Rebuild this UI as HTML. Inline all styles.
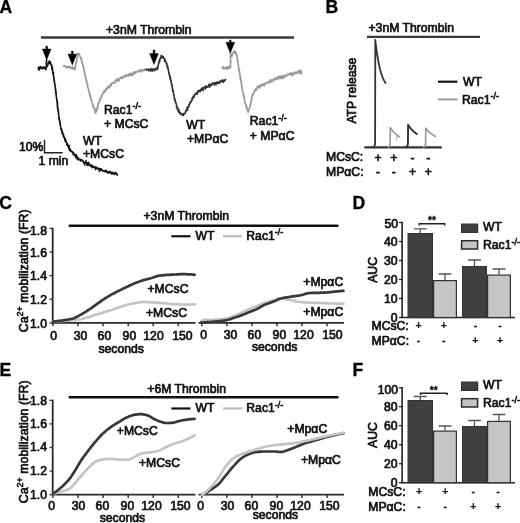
<!DOCTYPE html>
<html><head><meta charset="utf-8"><title>Figure</title>
<style>
html,body{margin:0;padding:0;background:#fff;}
svg{display:block;}
text{font-family:"Liberation Sans",Arial,sans-serif;fill:#111;stroke:#111;stroke-width:0.7px;stroke-linejoin:round;}
.b{font-weight:bold;font-size:17.6px;fill:#000;stroke:#000;stroke-width:0.3px;}
.t{font-size:12.2px;}
.s{font-size:9px;stroke-width:0.6px;}
.g{font-size:10.5px;font-weight:bold;stroke-width:0.15px;}
</style></head><body>
<svg width="520" height="523" viewBox="0 0 520 523">
<rect width="520" height="523" fill="#fff"/>

<text class="b" x="-0.5" y="12.7">A</text>
<text class="b" x="325.5" y="12.6">B</text>
<text class="b" x="-0.8" y="208.5">C</text>
<text class="b" x="352.4" y="208.8">D</text>
<text class="b" x="-0.4" y="375.8">E</text>
<text class="b" x="352.4" y="375.8">F</text>
<line x1="41" y1="37.5" x2="294" y2="37.5" stroke="#3a3a3a" stroke-width="2.5"/>
<text class="t" x="106" y="33.5">+3nM Thrombin</text>
<path d="M63.5 66.0 L63.6 66.3 L64.3 66.0 L64.4 65.6 L64.6 66.0 L65.2 65.7 L65.7 66.6 L65.7 67.7 L66.1 66.4 L66.4 66.4 L66.7 67.4 L67.2 67.3 L67.4 67.3 L67.8 66.5 L68.3 67.4 L68.4 68.1 L68.9 66.5 L69.1 67.4 L69.4 66.3 L69.6 66.9 L70.4 66.6 L70.5 68.0 L70.9 67.2 L71.2 68.6 L71.6 68.6 L72.0 68.4 L72.6 66.7 L72.7 68.4 L73.0 68.9 L73.4 69.1 L73.7 67.9 L74.3 68.8 L74.5 68.4 L74.5 68.6 L74.6 70.0 L74.8 68.4 L75.1 68.9 L74.7 69.4 L75.2 67.9 L75.1 68.0 L75.4 67.8 L75.2 67.4 L75.4 65.9 L75.3 66.5 L75.4 67.1 L75.8 64.3 L75.8 65.8 L75.7 64.8 L75.7 63.7 L75.6 65.4 L75.9 64.0 L76.0 62.1 L76.0 62.8 L76.1 62.8 L76.1 61.9 L76.2 62.2 L76.3 61.3 L76.5 61.5 L76.7 61.8 L76.5 59.8 L76.5 60.1 L76.6 59.2 L76.6 59.4 L76.7 58.0 L76.8 58.1 L76.8 58.1 L77.0 58.6 L77.0 58.5 L77.1 56.2 L77.2 56.2 L77.2 57.1 L77.3 54.6 L77.5 55.4 L77.5 55.3 L77.8 55.9 L77.9 55.1 L77.8 53.9 L78.2 53.5 L78.1 53.4 L78.4 54.7 L78.6 53.2 L78.5 53.4 L79.0 54.2 L79.2 54.1 L79.3 54.5 L79.5 54.1 L79.7 55.4 L79.8 55.4 L80.0 57.0 L80.1 56.9 L80.3 56.7 L80.3 57.6 L80.6 57.1 L80.7 58.5 L80.8 58.0 L80.9 58.8 L81.1 57.7 L80.9 59.3 L81.3 58.0 L81.4 58.1 L81.5 59.8 L81.6 59.7 L81.6 60.9 L81.7 62.9 L81.9 60.7 L82.0 61.2 L82.1 62.2 L82.0 62.8 L82.3 62.6 L82.5 62.9 L82.5 64.0 L82.5 64.2 L82.4 63.3 L82.8 64.4 L82.8 64.8 L82.6 64.3 L83.0 65.7 L82.9 65.1 L83.0 66.9 L83.1 66.6 L83.4 66.9 L83.3 66.7 L83.5 67.4 L83.7 66.2 L83.8 67.3 L83.7 68.8 L83.7 67.2 L83.7 69.9 L83.8 68.1 L84.0 70.5 L84.1 69.5 L84.1 71.2 L84.3 71.0 L84.2 70.0 L84.3 72.6 L84.5 73.1 L84.6 72.2 L84.7 72.4 L84.7 72.8 L84.7 72.5 L84.8 74.5 L84.7 73.6 L84.7 74.3 L85.1 74.0 L85.1 74.5 L85.2 74.3 L85.0 76.7 L85.3 75.9 L85.3 77.2 L85.4 76.7 L85.3 76.5 L85.6 77.2 L85.8 77.3 L85.8 78.1 L85.8 78.1 L85.9 78.5 L86.1 78.0 L85.7 78.8 L86.1 81.1 L86.3 79.6 L86.4 79.6 L86.6 81.1 L86.6 82.3 L86.6 80.3 L86.7 81.7 L86.8 81.7 L86.7 81.1 L86.9 83.5 L87.1 83.2 L87.3 83.6 L87.1 83.3 L87.2 84.6 L87.3 84.1 L87.5 84.8 L87.4 84.4 L87.7 84.6 L87.5 87.0 L87.7 85.9 L87.7 86.9 L87.9 86.9 L88.1 86.9 L87.8 87.2 L88.0 88.5 L88.2 88.1 L88.2 88.5 L88.2 89.0 L88.6 90.3 L88.6 90.2 L88.7 90.3 L88.6 89.9 L88.9 89.6 L88.8 91.8 L89.1 92.2 L88.9 91.6 L89.0 92.5 L89.2 93.0 L89.2 93.4 L89.5 93.8 L89.5 93.0 L89.4 95.0 L89.7 93.1 L89.7 95.1 L89.9 95.2 L89.8 95.8 L90.0 96.9 L90.2 97.0 L90.5 95.2 L90.5 95.1 L90.4 97.4 L90.5 96.3 L90.8 97.4 L90.7 98.5 L90.7 96.8 L90.9 96.8 L91.0 99.0 L91.0 99.2 L91.0 99.3 L91.1 99.8 L91.4 99.5 L91.4 99.3 L91.5 100.7 L91.7 100.4 L91.8 100.2 L91.8 102.2 L92.0 102.1 L92.0 102.8 L92.1 102.0 L92.2 102.6 L92.5 102.7 L92.5 103.1 L92.5 104.3 L92.7 103.9 L92.8 105.1 L93.0 105.4 L92.9 107.1 L93.0 104.7 L93.2 106.9 L93.7 106.4 L93.6 106.8 L93.6 106.0 L93.8 107.1 L94.1 108.4 L93.9 108.1 L94.0 108.6 L94.3 108.8 L94.4 110.3 L94.5 109.8 L94.5 108.5 L94.9 110.1 L95.0 109.5 L95.0 108.8 L95.2 111.3 L95.0 113.0 L95.4 112.2 L95.5 111.3 L95.7 111.5 L95.8 113.1 L95.9 112.2 L95.8 111.9 L96.2 111.5 L96.2 111.2 L96.4 111.4 L96.5 110.8 L96.7 110.1 L96.6 108.6 L97.2 109.5 L97.2 108.1 L97.4 109.2 L97.6 107.0 L97.5 107.6 L97.3 107.3 L97.6 106.0 L97.6 108.1 L97.8 107.5 L97.9 105.6 L97.8 106.3 L98.2 105.6 L98.0 102.9 L98.3 104.8 L98.4 104.2 L98.4 104.0 L98.5 102.8 L98.6 103.1 L98.7 102.8 L98.6 103.6 L98.9 102.5 L99.3 101.9 L99.4 102.8 L99.4 100.8 L99.5 100.7 L99.4 99.2 L99.8 101.6 L99.8 100.8 L99.9 100.4 L100.0 99.9 L100.2 99.1 L100.3 98.9 L100.5 98.2 L100.5 97.9 L100.7 97.8 L101.2 98.6 L101.1 97.5 L101.2 96.7 L101.5 96.0 L101.6 95.6 L101.6 97.1 L101.9 95.9 L102.2 95.3 L102.3 94.6 L102.4 93.7 L102.8 94.2 L102.7 94.7 L102.9 93.4 L103.0 93.2 L103.5 92.9 L103.2 92.9 L103.6 91.2 L103.8 92.0 L104.1 91.3 L104.3 92.4 L104.6 90.8 L104.5 91.6 L104.9 92.0 L105.0 90.3 L105.2 89.8 L105.6 90.2 L105.6 89.7 L105.7 88.7 L106.2 89.6 L106.3 90.5 L106.6 88.5 L107.0 88.2 L107.2 87.3 L107.6 88.1 L107.6 86.6 L107.7 86.5 L108.1 88.2 L108.3 86.2 L108.5 87.5 L109.0 87.6 L109.1 86.4 L109.2 86.4 L109.8 87.2 L109.9 85.3 L110.2 84.8 L110.5 83.9 L110.8 84.8 L111.0 85.7 L111.4 85.1 L111.6 83.4 L111.9 83.2 L112.1 83.3 L112.2 83.7 L112.6 83.1 L112.9 83.2 L113.2 83.1 L113.3 82.4 L114.0 82.4 L114.1 82.4 L114.2 82.0 L114.5 82.3 L114.9 83.2 L115.3 82.0 L115.5 81.3 L115.9 79.8 L116.1 81.2 L116.5 79.2 L116.7 79.4 L117.1 81.1 L117.5 80.8 L118.0 79.9 L117.8 78.5 L118.2 79.4 L118.5 79.0 L119.0 79.8 L119.0 81.0 L119.4 79.2 L119.8 78.2 L120.0 77.7 L120.3 78.5 L120.7 78.2 L120.8 77.3 L121.2 78.1 L121.6 77.0 L122.0 78.6 L122.3 78.4 L122.4 78.3 L122.9 76.9 L123.4 77.5 L123.7 76.9 L123.9 76.5 L124.1 76.4 L124.6 75.5 L124.8 75.3 L125.0 76.9 L125.4 76.0 L126.0 76.2 L126.2 76.7 L126.6 74.4 L126.8 75.0 L127.2 75.7 L127.4 75.7 L127.8 75.0 L128.4 76.0 L128.5 75.2 L128.7 74.0 L129.1 74.1 L129.5 75.4 L129.9 75.0 L130.1 73.0 L130.2 75.4 L130.7 74.7 L131.1 75.2 L131.5 73.7 L131.9 73.7 L132.1 72.9 L132.5 75.7 L132.6 73.4 L133.2 74.7 L133.7 72.8 L133.9 73.4 L134.1 71.8 L134.4 72.7 L135.0 73.7 L135.0 71.8 L135.4 73.5 L135.8 72.8 L136.2 71.6 L136.3 71.9 L136.8 71.8 L137.0 72.0 L137.4 71.5 L137.7 71.1 L137.9 71.4 L138.4 70.7 L138.8 70.4 L138.9 71.3 L139.3 71.9 L139.8 69.9 L139.9 71.0 L140.4 70.4 L140.6 70.0 L141.2 71.4 L141.7 70.2 L142.0 71.7 L142.0 69.8 L142.5 70.7 L142.7 70.1 L143.1 69.6 L143.6 70.6 L143.6 69.9 L144.2 70.4 L144.4 69.8 L144.9 68.9 L145.1 69.6 L145.4 69.7 L145.8 70.3 L146.1 68.8" fill="none" stroke="#999" stroke-width="1.5" stroke-linejoin="round" stroke-linecap="round"/>
<path d="M222.1 67.9 L222.5 68.3 L222.7 67.5 L222.9 66.3 L223.5 68.7 L223.7 68.5 L223.8 68.1 L224.8 68.0 L224.9 68.8 L225.4 67.6 L225.4 67.4 L226.0 67.8 L226.4 68.9 L226.8 66.9 L227.0 68.9 L227.3 67.4 L227.9 67.0 L228.1 68.8 L228.6 67.6 L229.2 66.5 L229.4 67.2 L229.9 68.1 L230.1 68.2 L230.5 66.8 L230.5 67.4 L230.4 67.5 L230.6 66.2 L230.3 66.8 L230.4 66.3 L230.6 65.6 L230.3 65.3 L230.4 65.4 L230.3 65.0 L230.5 64.2 L230.7 63.9 L230.4 64.7 L230.5 63.5 L230.4 63.6 L230.3 63.3 L230.3 62.4 L230.7 63.2 L230.8 60.2 L230.6 61.1 L230.4 59.7 L230.6 60.9 L230.5 60.3 L230.6 56.9 L230.5 57.2 L230.5 58.1 L230.6 57.7 L230.4 57.3 L230.5 56.2 L230.3 56.3 L230.5 56.1 L230.4 55.2 L230.5 55.8 L230.4 52.9 L230.6 55.0 L230.6 53.5 L230.4 54.9 L230.5 53.9 L230.5 53.3 L230.7 54.3 L230.9 53.6 L230.9 54.0 L231.0 53.9 L231.4 55.6 L231.2 56.3 L231.7 56.8 L231.6 55.8 L231.5 56.6 L232.3 55.5 L232.4 55.1 L232.2 55.2 L232.5 55.2 L232.6 53.7 L232.9 53.4 L232.9 53.1 L233.2 52.9 L233.5 51.8 L233.7 53.1 L234.1 51.7 L234.3 52.1 L234.9 50.9 L234.8 51.7 L235.1 51.7 L235.0 51.2 L235.3 53.3 L235.7 52.3 L235.6 53.7 L235.9 53.4 L236.0 52.6 L236.0 53.2 L236.2 54.3 L236.3 54.4 L236.4 54.8 L236.6 54.9 L236.7 54.0 L236.6 55.6 L236.7 54.3 L236.9 56.7 L236.9 56.2 L237.1 56.5 L237.4 57.3 L237.2 58.0 L237.2 57.0 L237.2 57.1 L237.2 58.0 L237.3 57.5 L237.3 58.7 L237.4 61.1 L237.5 59.4 L237.7 61.1 L237.6 59.8 L237.7 61.5 L237.6 61.4 L238.0 61.9 L237.9 62.8 L238.1 64.1 L238.0 63.2 L238.2 63.5 L238.0 62.9 L238.2 64.5 L238.5 64.2 L238.1 65.4 L238.4 65.1 L238.5 66.8 L238.4 64.2 L238.5 65.9 L238.6 67.2 L238.5 66.5 L238.6 66.5 L238.5 67.3 L238.6 66.8 L238.7 68.3 L238.8 70.5 L238.9 69.8 L239.0 68.4 L238.8 68.9 L239.3 69.6 L239.3 71.1 L239.3 70.0 L239.2 70.4 L239.3 72.0 L239.4 72.4 L239.4 71.7 L239.2 71.5 L239.6 71.5 L239.9 72.5 L239.4 71.6 L239.8 74.3 L239.8 73.6 L239.8 74.8 L240.0 76.3 L239.7 76.1 L240.0 74.5 L240.2 76.5 L240.0 77.1 L240.1 75.9 L240.2 76.1 L240.2 77.1 L240.5 76.3 L240.2 79.1 L240.5 76.3 L240.3 77.7 L240.6 78.7 L240.6 79.1 L240.3 79.7 L240.7 80.2 L240.6 80.1 L240.8 81.5 L241.1 79.3 L240.8 81.3 L240.9 81.1 L241.2 82.1 L241.1 82.5 L241.4 82.0 L241.3 82.5 L241.2 84.0 L241.4 84.0 L241.6 83.5 L241.6 86.1 L241.5 86.6 L241.6 84.0 L241.6 85.7 L241.7 87.8 L242.0 86.8 L241.8 86.7 L241.8 86.7 L241.9 86.8 L242.1 87.4 L242.2 87.4 L242.1 88.8 L242.1 88.3 L242.3 88.6 L242.1 88.3 L242.2 89.6 L242.6 89.2 L242.5 90.1 L242.6 91.5 L242.8 91.3 L242.8 91.7 L242.8 92.0 L243.1 92.1 L243.0 92.3 L243.0 92.5 L243.2 93.6 L243.2 92.5 L243.1 94.8 L243.3 94.1 L243.3 93.8 L243.2 94.4 L243.5 94.6 L243.5 95.6 L243.6 95.2 L243.5 97.0 L243.7 95.8 L243.9 95.0 L243.9 96.6 L243.9 95.9 L244.2 97.8 L244.0 99.0 L244.2 99.0 L244.5 97.8 L244.3 98.6 L244.4 101.0 L244.7 100.1 L244.6 100.2 L244.7 101.4 L244.8 102.9 L245.0 102.3 L244.7 101.7 L245.0 102.2 L245.0 102.8 L245.1 102.1 L245.2 102.1 L245.3 103.3 L245.5 102.9 L245.5 103.9 L245.7 104.4 L245.8 106.5 L245.8 104.3 L246.0 105.2 L246.3 105.5 L246.2 106.3 L246.2 107.1 L246.4 106.3 L246.4 106.4 L246.7 106.2 L246.9 107.2 L246.8 108.8 L247.0 108.9 L247.3 108.4 L247.2 109.3 L247.5 110.0 L247.4 110.7 L247.6 110.1 L247.8 110.7 L248.2 109.6 L248.0 110.2 L248.1 112.5 L248.2 109.4 L248.4 110.8 L248.6 111.1 L248.7 110.5 L249.0 109.9 L248.9 110.2 L249.2 109.9 L249.2 109.5 L249.3 107.7 L249.2 108.7 L249.4 107.7 L249.6 107.5 L249.6 107.7 L249.5 107.6 L250.0 107.4 L249.9 105.8 L250.0 106.5 L250.2 106.3 L250.3 105.9 L250.4 105.7 L250.3 104.1 L250.5 103.7 L250.7 104.2 L250.8 102.1 L250.8 103.0 L250.9 102.1 L250.9 101.9 L251.1 100.4 L251.3 100.8 L251.1 101.1 L251.5 101.5 L251.5 101.2 L251.4 100.0 L251.6 99.6 L251.4 98.7 L251.4 99.3 L251.5 98.5 L251.7 98.8 L251.8 99.4 L251.8 97.6 L252.0 96.1 L251.8 96.3 L252.2 95.4 L252.1 95.3 L252.2 97.0 L252.4 95.8 L252.4 94.1 L252.4 95.5 L252.6 95.6 L252.8 94.0 L253.0 93.5 L253.1 93.4 L253.1 93.6 L253.2 93.6 L253.4 93.7 L253.7 93.4 L253.6 93.1 L254.2 92.9 L254.1 92.1 L254.3 90.0 L254.6 90.8 L254.9 90.9 L255.1 90.0 L255.4 90.8 L255.5 89.5 L255.9 88.8 L256.1 90.4 L256.2 89.5 L256.6 88.9 L256.7 89.3 L256.9 89.2 L257.1 88.4 L257.4 85.9 L257.8 87.1 L257.8 87.1 L258.4 86.5 L258.6 87.2 L258.9 87.8 L258.9 86.3 L259.5 85.6 L259.9 87.9 L260.0 85.8 L260.4 85.0 L260.4 86.0 L261.1 85.9 L261.3 84.8 L261.7 85.9 L261.7 84.7 L262.3 84.2 L262.5 84.9 L262.9 85.2 L263.0 83.9 L263.4 84.5 L264.0 84.0 L264.0 86.2 L264.3 83.2 L264.7 84.7 L264.9 83.4 L265.5 83.2 L265.9 83.7 L265.9 83.7 L266.1 83.8 L266.7 82.9 L267.1 82.0 L267.3 81.9 L267.7 82.6 L267.8 82.5 L268.2 83.0 L268.3 82.1 L268.7 82.5 L269.3 82.7 L269.4 81.5 L270.1 80.0 L270.1 80.1 L270.4 79.8 L270.9 82.1 L271.3 80.0 L271.5 81.5 L271.6 80.9 L272.1 81.6 L272.5 80.9 L272.6 79.9 L272.9 79.7 L273.5 79.8 L273.7 79.8 L273.9 79.1 L274.3 79.3 L274.6 80.5 L275.0 77.8 L275.3 79.2 L275.8 78.2 L276.1 78.9 L276.1 79.3 L276.7 78.5 L277.1 79.0 L277.4 77.0 L277.8 79.1 L277.9 77.6 L278.2 78.5 L278.7 78.0 L278.8 75.7 L279.0 77.0 L279.7 77.7 L279.9 78.7 L280.3 77.6 L280.5 77.4 L280.8 76.0 L281.2 78.2 L281.6 78.4 L282.0 76.9 L282.0 76.6 L282.7 75.4 L282.8 77.3 L283.2 78.6 L283.7 76.9 L284.0 77.3 L284.1 76.6 L284.9 75.3 L284.9 77.0 L285.4 74.9 L285.7 75.6 L286.2 75.9 L286.3 76.3 L286.8 75.8 L286.9 75.7 L287.5 74.7 L287.6 74.2 L288.0 75.2 L288.6 74.5 L288.8 73.9 L289.1 73.8 L289.7 74.4 L289.8 73.2 L290.0 73.5 L290.5 73.2 L290.6 74.5 L291.2 74.6 L291.6 75.8 L291.7 72.9 L292.0 73.5 L292.5 74.7 L292.8 73.7 L293.0 73.5 L293.5 75.1 L293.5 73.3 L294.1 72.6 L294.4 72.4 L294.8 73.6 L295.2 73.5 L295.3 72.1 L295.9 72.3 L296.1 73.4 L296.4 73.4 L296.7 72.3 L297.0 73.2 L297.6 73.1 L297.7 71.2 L298.2 72.2 L298.7 72.7 L299.0 71.9 L299.4 70.5 L299.5 71.9 L299.8 72.7 L300.4 73.3 L300.6 70.2 L301.1 73.9 L301.3 70.9 L301.6 72.5" fill="none" stroke="#999" stroke-width="1.5" stroke-linejoin="round" stroke-linecap="round"/>
<path d="M146.0 69.9 L146.3 69.8 L146.6 69.7 L147.1 69.6 L147.4 69.5 L147.9 69.6 L148.1 70.2 L148.4 69.0 L148.8 70.9 L149.1 69.4 L149.4 70.3 L149.8 69.4 L150.3 69.3 L150.6 71.1 L151.0 69.3 L151.0 68.5 L151.5 68.9 L151.9 69.2 L152.3 71.2 L152.6 69.7 L152.9 70.2 L153.4 68.7 L153.7 69.8 L153.9 70.0 L154.6 70.9 L154.9 68.9 L155.2 69.9 L155.7 69.7 L155.9 68.6 L156.5 69.3 L156.6 69.1 L156.8 67.4 L157.0 69.6 L157.1 69.5 L157.4 68.5 L157.5 67.5 L157.6 69.5 L157.6 68.2 L157.3 68.4 L157.9 68.4 L157.7 66.4 L158.0 67.1 L158.2 65.8 L158.2 65.5 L158.2 65.1 L158.3 64.7 L158.4 65.2 L158.4 64.1 L158.5 63.5 L158.6 63.1 L158.9 63.2 L158.8 61.9 L159.0 61.9 L159.0 61.9 L159.1 61.1 L159.2 61.2 L159.3 60.4 L159.4 62.2 L159.5 61.3 L159.4 60.2 L159.5 59.5 L159.9 61.0 L159.8 59.2 L159.9 58.5 L160.3 58.5 L160.4 58.1 L160.5 58.6 L160.5 57.1 L161.1 58.4 L161.0 55.7 L161.2 56.7 L161.4 55.2 L161.4 57.5 L161.7 55.8 L162.1 56.2 L162.4 57.3 L162.6 57.8 L162.7 56.3 L163.0 57.2 L163.3 56.7 L163.4 58.2 L163.9 58.3 L164.1 58.4 L164.5 58.4 L164.4 58.9 L164.5 58.9 L164.6 60.3 L164.5 61.4 L165.0 58.9 L165.2 60.7 L165.5 60.8 L165.6 61.8 L165.7 61.0 L165.8 62.0 L166.0 61.6 L166.3 63.3 L166.1 63.1 L166.3 63.2 L166.3 64.0 L166.8 63.8 L166.8 63.1 L166.9 65.1 L166.8 65.2 L167.0 65.2 L167.1 66.4 L167.2 66.9 L167.3 65.4 L167.5 66.0 L167.5 68.2 L167.7 68.4 L167.7 67.1 L167.8 67.0 L167.9 67.8 L167.9 68.3 L168.2 67.7 L168.1 69.4 L168.3 68.7 L168.3 69.1 L168.3 71.1 L168.6 70.2 L168.5 71.0 L168.8 71.9 L168.8 72.4 L168.6 71.8 L168.8 72.5 L168.9 72.1 L169.0 74.5 L169.0 74.0 L169.3 72.9 L169.3 74.1 L169.5 75.1 L169.4 75.2 L169.6 76.6 L169.6 76.6 L169.7 75.4 L169.9 76.1 L169.9 75.5 L169.9 77.1 L169.9 77.3 L170.2 79.7 L170.3 78.0 L170.3 76.6 L170.3 78.0 L170.5 79.0 L170.8 78.3 L170.6 78.9 L170.7 79.7 L170.8 80.6 L170.5 80.5 L170.9 80.3 L170.9 81.9 L171.2 81.2 L171.1 81.6 L171.1 81.2 L171.2 82.1 L171.4 83.5 L171.4 82.1 L171.5 83.7 L171.4 84.6 L171.6 84.1 L171.8 84.9 L172.0 84.2 L171.9 86.5 L172.0 86.6 L172.1 86.3 L172.2 85.1 L172.3 86.0 L172.3 87.9 L172.3 88.9 L172.4 88.1 L172.4 89.2 L172.5 88.0 L172.6 88.7 L172.6 89.2 L172.5 89.9 L172.7 88.7 L172.6 91.0 L173.0 91.6 L173.0 90.0 L172.9 90.2 L173.3 91.9 L173.4 91.4 L173.3 90.4 L173.6 93.3 L173.7 93.1 L173.4 92.9 L173.7 95.3 L173.7 94.1 L173.8 93.7 L173.9 94.8 L173.8 94.2 L173.9 94.8 L173.9 96.0 L174.0 95.6 L174.2 96.0 L174.1 98.1 L174.2 97.8 L174.5 98.1 L174.5 98.2 L174.6 98.5 L174.4 99.6 L174.6 98.8 L174.7 100.6 L174.8 98.7 L174.9 99.6 L175.1 99.1 L175.1 100.2 L175.2 101.3 L175.3 102.4 L175.4 101.0 L175.4 101.9 L175.6 101.9 L175.7 102.0 L175.7 101.9 L175.8 103.3 L175.9 102.2 L176.1 104.0 L176.2 104.2 L176.2 104.0 L176.4 104.1 L176.4 104.1 L176.7 107.0 L176.6 104.8 L176.5 107.5 L177.0 107.0 L177.0 106.6 L177.0 106.3 L177.2 108.4 L177.2 109.3 L177.7 107.5 L177.7 108.4 L177.6 109.8 L178.0 109.5 L178.0 111.2 L178.4 109.4 L178.3 110.6 L178.3 109.5 L178.7 112.5 L178.9 110.5 L179.0 109.6 L179.0 111.5 L179.5 111.7 L179.9 113.7 L179.7 112.2 L180.4 112.7 L180.5 113.5 L181.1 114.6 L181.2 113.5 L181.4 114.7 L181.8 114.5 L182.1 114.0 L182.2 114.5 L182.7 114.5 L182.8 113.9 L182.9 115.6 L183.6 113.4 L183.5 115.4 L183.7 115.1 L184.0 114.1 L184.0 113.3 L184.3 113.5 L184.6 113.7 L184.8 113.6 L185.1 112.9 L185.4 113.2 L185.4 111.5 L185.8 111.8 L186.0 110.0 L186.0 111.5 L186.3 110.6 L186.4 109.8 L186.8 110.7 L186.9 110.0 L187.0 106.9 L187.0 108.9 L187.4 107.4 L187.4 109.1 L187.8 109.9 L187.8 107.2 L187.9 107.4 L188.3 106.8 L188.4 107.0 L188.4 106.9 L188.7 107.1 L188.7 104.9 L188.9 106.7 L189.1 104.3 L189.1 105.0 L189.3 105.4 L189.5 104.7 L189.8 103.1 L190.0 102.9 L189.9 102.8 L190.3 102.8 L190.2 103.5 L190.4 101.2 L190.7 102.3 L190.8 102.1 L191.2 101.8 L191.1 101.4 L191.1 101.9 L191.6 100.8 L191.6 100.8 L191.7 100.3 L191.6 100.9 L192.3 97.7 L192.4 99.9 L192.6 98.4 L192.8 98.1 L193.1 97.2 L193.1 96.2 L193.4 97.1 L193.4 96.6 L193.6 97.2 L194.0 95.3 L194.1 97.4 L194.1 96.2 L194.5 95.5 L194.7 94.8 L194.8 94.5 L195.2 94.0 L195.3 94.2 L195.4 94.4 L195.7 94.0 L196.3 92.7 L196.1 93.4 L196.6 92.7 L196.9 93.3 L197.2 94.4 L197.2 93.2 L197.6 92.2 L197.9 90.9 L198.2 90.8 L198.4 90.4 L198.6 92.1 L199.1 90.7 L199.4 91.1 L199.6 90.4 L199.8 90.7 L200.2 91.6 L200.4 89.7 L200.8 89.8 L200.8 89.2 L201.3 90.4 L201.5 88.7 L201.7 88.4 L202.2 88.0 L202.5 87.9 L202.7 89.2 L203.1 90.7 L203.2 87.7 L203.7 89.1 L204.0 88.3 L204.3 87.1 L204.8 87.6 L204.8 87.5 L205.1 87.0 L205.6 88.9 L205.9 85.7 L206.5 87.4 L206.6 87.2 L206.7 86.3 L207.3 86.7 L207.4 87.2 L207.6 86.4 L208.4 86.5 L208.5 86.6 L208.9 84.3 L209.2 86.9 L209.6 87.4 L209.8 86.2 L210.2 86.1 L210.2 84.0 L210.5 84.9 L211.2 84.3 L211.5 84.3 L211.7 85.4 L212.0 83.9 L212.3 84.3 L212.6 82.7 L213.1 84.0 L213.4 84.1 L213.7 83.3 L214.0 83.2 L214.4 85.1 L214.7 82.5 L215.0 82.5 L215.1 82.6 L215.6 84.1 L216.2 84.7 L216.2 83.2 L216.6 82.2 L217.0 82.4 L217.4 83.4 L217.7 81.8 L217.7 83.5 L218.3 83.4 L218.4 82.2 L218.8 82.6 L219.3 82.6 L219.5 83.1 L220.0 80.9 L220.6 82.6 L220.7 81.3 L221.0 80.8 L221.1 81.4 L221.5 81.1 L221.8 80.4 L222.2 79.8 L222.5 80.2 L222.9 82.1 L223.3 82.4 L223.5 81.2 L223.8 81.6 L224.1 80.1 L224.7 80.4 L225.0 80.6 L225.5 79.4 L225.5 79.5" fill="none" stroke="#333" stroke-width="1.5" stroke-linejoin="round" stroke-linecap="round"/>
<path d="M38.1 68.2 L38.4 69.0 L38.7 67.1 L39.1 70.2 L39.5 69.2 L39.6 68.0 L40.1 67.1 L40.7 68.4 L40.7 66.4 L41.1 67.3 L41.4 68.6 L41.6 68.0 L42.3 67.5 L42.5 68.7 L42.9 67.0 L43.4 68.1 L43.9 67.4 L43.8 67.1 L44.4 68.2 L44.8 66.9 L45.2 69.4 L45.7 67.3 L46.0 69.4 L46.4 66.8 L46.4 68.2 L46.4 66.6 L46.5 66.3 L46.5 67.3 L46.4 67.4 L46.4 65.4 L46.6 67.0 L46.5 64.9 L46.4 65.1 L46.3 64.8 L46.4 64.5 L46.3 62.0 L46.5 64.4 L46.5 63.0 L46.2 61.7 L46.5 60.9 L46.6 60.0 L46.5 60.0 L46.4 61.5 L46.7 60.7 L46.4 60.1 L46.4 60.8 L46.4 62.8 L46.5 61.5 L46.7 61.7 L46.7 63.8 L46.6 63.6 L46.4 63.7 L46.5 63.7 L46.5 63.4 L46.6 64.2 L46.4 65.3 L46.7 65.9 L46.8 66.8 L46.7 67.2 L46.8 67.1 L46.7 67.2 L46.7 66.1 L46.9 64.9 L47.3 66.0 L47.5 65.3 L47.6 65.1 L48.0 65.0 L48.0 63.9 L48.4 63.7 L48.4 64.1 L48.4 63.9 L48.8 62.8 L48.7 63.4 L48.8 62.4 L48.9 61.4 L49.3 62.0 L49.4 63.3 L49.5 61.0 L49.7 62.5 L50.1 62.7 L50.0 63.1 L50.1 61.4 L50.6 64.1 L50.7 62.9 L50.8 63.0 L50.6 63.4 L50.9 64.5 L51.2 64.4 L51.2 64.5 L51.5 66.1 L51.3 64.7 L51.6 64.8 L51.5 66.7 L51.9 66.9 L51.8 67.6 L52.0 66.1 L51.9 68.3 L51.8 68.1 L52.0 69.5 L52.1 67.3 L52.1 68.9 L52.5 68.8 L52.6 68.1 L52.5 69.2 L52.4 71.1 L52.6 70.1 L52.6 70.2 L52.9 71.9 L52.8 72.3 L52.9 72.7 L52.9 71.5 L52.7 72.5 L52.9 73.7 L53.0 72.6 L53.2 72.9 L53.2 74.6 L53.2 75.6 L53.3 73.6 L53.6 72.7 L53.3 74.0 L53.4 74.8 L53.5 75.8 L53.5 76.8 L53.6 76.5 L53.8 76.4 L54.0 77.5 L53.6 76.9 L53.9 78.0 L53.9 77.8 L54.0 81.0 L54.0 79.8 L54.0 78.7 L54.3 78.9 L54.1 79.8 L54.2 79.1 L54.3 80.2 L54.3 80.5 L54.4 82.3 L54.6 81.5 L54.5 81.5 L54.6 81.4 L54.6 81.9 L54.5 83.2 L54.6 83.4 L54.6 84.9 L54.8 83.7 L54.7 85.5 L54.7 85.2 L55.0 85.3 L55.0 84.0 L54.8 84.9 L55.3 87.0 L55.1 87.9 L55.2 87.2 L55.3 88.0 L55.3 87.4 L55.2 87.8 L55.6 87.9 L55.3 89.6 L55.4 89.4 L55.6 89.3 L55.4 89.6 L55.6 90.7 L55.7 90.8 L56.0 90.2 L55.6 92.7 L55.7 91.8 L55.9 91.9 L55.8 93.5 L55.7 93.5 L56.0 92.9 L56.0 93.8 L56.1 92.7 L56.2 93.5 L56.2 92.4 L56.2 95.7 L56.2 93.4 L56.1 96.0 L56.3 95.0 L56.3 95.2 L56.3 96.3 L56.4 97.0 L56.3 97.6 L56.7 99.0 L56.8 98.1 L56.5 98.9 L56.7 98.0 L56.6 99.5 L56.9 99.3 L56.8 99.2 L56.8 99.8 L56.8 100.2 L56.9 100.8 L56.8 101.3 L57.1 100.9 L56.9 101.0 L57.1 102.6 L57.1 100.9 L57.3 102.2 L57.2 104.3 L57.4 101.1 L57.2 103.1 L57.4 104.7 L57.3 103.0 L57.4 107.0 L57.5 102.9 L57.6 106.7 L57.3 107.1 L57.6 106.9 L57.4 106.3 L57.8 107.2 L57.5 106.4 L57.6 108.2 L57.6 106.9 L58.0 108.0 L57.7 109.4 L57.9 108.0 L57.9 109.0 L57.8 109.8 L58.0 108.8 L58.2 111.3 L58.1 111.0 L58.3 109.7 L58.2 111.3 L58.3 111.1 L58.3 111.5 L58.4 112.5 L58.6 112.2 L58.5 113.9 L58.5 112.9 L58.4 114.6 L58.5 114.1 L58.8 115.2 L58.5 114.4 L58.6 114.8 L58.7 114.6 L58.8 116.4 L59.1 117.0 L58.6 118.4 L59.0 118.0 L59.1 117.5 L58.9 117.4 L59.0 118.3 L59.2 118.3 L59.4 119.9 L59.2 119.8 L59.1 118.6 L59.5 119.1 L59.6 121.2 L59.5 120.6 L59.3 120.5 L59.8 122.1 L59.7 121.1 L59.9 121.5 L59.8 121.7 L59.8 120.8 L59.9 123.5 L60.2 122.1 L60.2 123.0 L59.8 123.2 L60.1 124.8 L60.5 124.5 L60.3 124.9 L60.2 123.8 L60.5 125.5 L60.5 124.6 L60.6 126.5 L60.6 126.9 L60.7 126.9 L60.8 129.0 L60.9 128.0 L60.9 128.4 L61.0 128.4 L61.1 128.4 L61.4 129.8 L61.4 130.2 L61.4 128.5 L61.5 130.9 L61.6 130.7 L61.8 131.5 L61.8 131.4 L62.1 130.3 L62.1 130.7 L62.0 133.6 L62.1 132.6 L62.3 131.5 L62.4 133.3 L62.4 133.0 L62.4 132.1 L62.4 132.1 L62.8 133.0 L63.0 134.9 L63.1 135.0 L63.0 135.1 L63.4 135.9 L63.3 136.5 L63.6 134.5 L63.7 136.4 L63.7 136.2 L63.9 136.2 L63.8 137.1 L64.1 137.8 L64.2 138.0 L64.6 137.3 L64.7 138.4 L65.0 140.9 L65.1 138.6 L65.1 138.3 L65.4 140.3 L65.4 140.9 L65.7 141.1 L65.8 140.1 L65.8 142.2 L66.0 141.0 L66.2 141.1 L66.3 141.8 L66.6 142.6 L66.8 143.6 L66.7 143.8 L66.8 143.6 L66.7 144.8 L67.1 144.3 L67.2 145.4 L67.2 143.7 L67.6 143.9 L67.8 146.2 L67.8 144.7 L68.0 145.9 L68.1 146.4 L68.5 146.3 L68.4 146.7 L68.7 148.5 L69.2 145.5 L69.2 148.7 L69.4 150.2 L69.5 148.6 L69.6 148.8 L69.9 149.7 L70.2 151.0 L70.2 148.7 L70.6 150.1 L70.9 150.1 L71.1 151.0 L71.0 151.0 L71.3 151.7 L71.4 151.0 L72.0 151.7 L72.1 151.4 L72.3 151.6 L72.4 152.3 L72.5 152.6 L72.9 152.0 L73.2 154.6 L73.3 153.4 L73.6 152.6 L73.9 155.0 L74.1 153.7 L74.2 155.0 L74.3 154.8 L74.8 155.3 L75.1 155.5 L75.3 155.1 L75.5 155.9 L75.7 157.8 L76.2 154.4 L76.3 156.6 L76.6 157.2 L76.7 156.1 L77.0 156.1 L77.4 159.3 L77.5 157.4 L77.7 159.7 L78.1 158.6 L78.6 158.4 L78.8 159.0 L79.2 159.3 L79.3 160.0 L79.5 159.5 L79.7 159.5 L80.1 159.7 L80.6 160.9 L80.8 160.6 L81.1 159.3 L81.4 159.8 L81.6 160.8 L81.9 160.2 L82.2 160.6 L82.6 160.3 L82.9 161.0 L83.2 161.8 L83.5 162.5 L83.7 161.8 L84.0 163.7 L84.2 162.1 L84.8 165.0 L84.7 163.3 L85.2 163.1 L85.9 162.4 L85.8 160.6 L86.0 163.0 L86.5 163.5 L87.0 165.1 L87.1 162.5 L87.5 165.5 L87.7 163.8 L88.0 164.8 L88.7 162.2 L88.7 164.6 L88.9 164.4 L89.2 165.4 L89.6 165.1 L90.0 164.2 L90.3 166.1 L90.5 166.0 L90.7 166.1 L91.2 166.6 L91.4 166.9 L91.8 166.1 L91.9 165.1 L92.4 165.2 L92.6 167.7 L93.1 167.3 L93.2 166.9 L93.7 166.6 L94.0 167.1 L94.2 167.2 L94.6 167.1 L94.9 166.9 L95.4 169.5 L95.3 168.0 L95.9 167.4 L96.1 166.9 L96.5 167.5 L97.0 168.9 L97.2 169.0 L97.6 168.3 L97.8 168.7 L98.5 168.5 L98.7 168.0 L99.0 170.1 L99.1 169.5 L99.4 171.4 L100.0 168.7 L100.2 169.4 L100.5 170.4 L100.9 169.5 L101.0 168.7 L101.6 169.1 L101.9 170.1 L102.3 170.5 L102.5 170.2 L102.9 171.2 L103.1 171.3 L103.7 170.9 L104.0 170.7 L104.3 170.6 L104.6 171.3 L105.0 171.8 L104.9 171.1 L105.7 171.5 L105.9 171.0 L106.2 170.1 L106.5 170.6 L106.7 172.2 L107.2 172.0 L107.7 173.0 L108.1 171.8 L108.2 172.6 L108.5 173.1 L109.1 172.9 L109.2 171.6 L109.9 172.0 L110.0 172.4 L110.2 171.5 L110.8 172.8 L111.2 173.4 L111.1 172.2 L111.9 174.3 L112.0 172.5 L112.5 172.6 L112.6 172.7 L112.8 172.3 L113.4 173.4 L113.8 173.1 L114.3 174.6 L114.6 173.7 L114.9 173.7 L115.1 173.2 L115.4 172.2 L115.8 173.4 L116.0 172.8 L116.5 174.4 L116.5 173.6 L117.2 175.1 L117.5 174.4" fill="none" stroke="#111" stroke-width="1.5" stroke-linejoin="round" stroke-linecap="round"/>
<path d="M45.800000000000004 46.2 H47.6 V49 H51.1 L46.7 60 L42.300000000000004 49 H45.800000000000004 Z" fill="#000" stroke="#000" stroke-width="0.4" stroke-linejoin="round"/>
<path d="M71.39999999999999 51 H73.2 V54 H76.7 L72.3 65 L67.89999999999999 54 H71.39999999999999 Z" fill="#000" stroke="#000" stroke-width="0.4" stroke-linejoin="round"/>
<path d="M153.1 50 H154.9 V53.599999999999994 H158.4 L154 64.6 L149.6 53.599999999999994 H153.1 Z" fill="#000" stroke="#000" stroke-width="0.4" stroke-linejoin="round"/>
<path d="M229.4 40.2 H231.20000000000002 V42.2 H234.70000000000002 L230.3 53.2 L225.9 42.2 H229.4 Z" fill="#000" stroke="#000" stroke-width="0.4" stroke-linejoin="round"/>
<path d="M44.5 139.7 V152.7 H62.7" fill="none" stroke="#222" stroke-width="1.5"/>
<text class="t" x="19" y="151">10%</text>
<text class="t" x="38.5" y="164.5">1 min</text>
<text class="t" x="83" y="144.5">WT</text>
<text class="t" x="83" y="158">+MCsC</text>
<text class="t" x="104" y="113.9">Rac1<tspan class="s" dy="-4.5">-/-</tspan></text>
<text class="t" x="104" y="127.7">+ MCsC</text>
<text class="t" x="186.3" y="128.8">WT</text>
<text class="t" x="187" y="143.4">+MPαC</text>
<text class="t" x="249.8" y="125.3">Rac1<tspan class="s" dy="-4.5">-/-</tspan></text>
<text class="t" x="249.8" y="140">+ MPαC</text>
<line x1="367" y1="36.9" x2="480" y2="36.9" stroke="#3a3a3a" stroke-width="2.4"/>
<text class="t" x="368.5" y="32.3">+3nM Thrombin</text>
<line x1="364.3" y1="147.3" x2="441.8" y2="147.3" stroke="#333" stroke-width="2.2"/>
<path d="M373.1 147 L374.5 146.2 L375.1 144 L375.3 40 L376.4 49.3 L377.6 57.0 L378.7 63.2 L379.8 68.4 L381.0 72.6 L382.1 76.0 L383.2 78.8 L384.4 81.1 L385.5 83.0" fill="none" stroke="#333" stroke-width="1.8" stroke-linejoin="round" stroke-linecap="round"/>
<path d="M388.1 147 L389.5 146.2 L390.1 144 L390.3 127.7 L391.3 129.2 L392.3 130.6 L393.4 131.8 L394.4 132.9 L395.4 133.8 L396.4 134.7 L397.5 135.5 L398.5 136.2 L399.5 136.8" fill="none" stroke="#9a9a9a" stroke-width="1.7" stroke-linejoin="round" stroke-linecap="round"/>
<path d="M396.7 134.5 V140.5" stroke="#aaa" stroke-width="1" fill="none"/>
<path d="M405.90000000000003 147 L407.3 146.2 L407.90000000000003 144 L408.1 124.7 L409.1 126.2 L410.0 127.6 L411.0 128.8 L412.0 129.9 L412.9 130.9 L413.9 131.8 L414.9 132.6 L415.8 133.3 L416.8 133.9" fill="none" stroke="#2e2e2e" stroke-width="1.9" stroke-linejoin="round" stroke-linecap="round"/>
<path d="M423.6 147 L425.0 146.2 L425.6 144 L425.8 128.2 L426.9 129.5 L427.9 130.8 L429.0 131.8 L430.0 132.8 L431.1 133.7 L432.1 134.4 L433.2 135.1 L434.2 135.7 L435.3 136.3" fill="none" stroke="#9a9a9a" stroke-width="1.7" stroke-linejoin="round" stroke-linecap="round"/>
<text class="t" transform="translate(356.3,123.6) rotate(-90)">ATP release</text>
<text class="t" x="326" y="161">MCsC:</text>
<text class="t" x="326" y="175.5">MPαC:</text>
<text class="t" x="378" y="162" text-anchor="middle">+</text>
<text class="t" x="378" y="176" text-anchor="middle">-</text>
<text class="t" x="393.7" y="162" text-anchor="middle">+</text>
<text class="t" x="393.7" y="176" text-anchor="middle">-</text>
<text class="t" x="412.5" y="162" text-anchor="middle">-</text>
<text class="t" x="412.5" y="176" text-anchor="middle">+</text>
<text class="t" x="428.2" y="162" text-anchor="middle">-</text>
<text class="t" x="428.2" y="176" text-anchor="middle">+</text>
<line x1="438" y1="81.7" x2="457.5" y2="81.7" stroke="#111" stroke-width="2.2"/>
<line x1="438" y1="99.4" x2="457.5" y2="99.4" stroke="#999" stroke-width="1.9"/>
<text class="t" x="463" y="86">WT</text>
<text class="t" x="462" y="103.5">Rac1<tspan class="s" dy="-4.5">-/-</tspan></text>
<line x1="68.7" y1="225.75" x2="338.5" y2="225.75" stroke="#111" stroke-width="2.4"/>
<text class="t" x="143.5" y="220">+3nM Thrombin</text>
<path d="M52.7 227.8 V322.9 H195.5" fill="none" stroke="#2a2a2a" stroke-width="1.8"/>
<path d="M198.6 322.9 H344" fill="none" stroke="#2a2a2a" stroke-width="1.8"/>
<line x1="49.5" y1="228.40" x2="52.7" y2="228.40" stroke="#333" stroke-width="1.3"/>
<text class="t" x="47" y="235.10" text-anchor="end">1.8</text>
<line x1="49.5" y1="252.03" x2="52.7" y2="252.03" stroke="#333" stroke-width="1.3"/>
<text class="t" x="47" y="256.82" text-anchor="end">1.6</text>
<line x1="49.5" y1="275.65" x2="52.7" y2="275.65" stroke="#333" stroke-width="1.3"/>
<text class="t" x="47" y="280.45" text-anchor="end">1.4</text>
<line x1="49.5" y1="299.27" x2="52.7" y2="299.27" stroke="#333" stroke-width="1.3"/>
<text class="t" x="47" y="304.07" text-anchor="end">1.2</text>
<line x1="49.5" y1="322.90" x2="52.7" y2="322.90" stroke="#333" stroke-width="1.3"/>
<text class="t" x="47" y="327.70" text-anchor="end">1.0</text>
<line x1="53.0" y1="322.9" x2="53.0" y2="326.29999999999995" stroke="#2a2a2a" stroke-width="1.4"/>
<text class="t" x="53.7" y="340.4" text-anchor="middle">0</text>
<line x1="78.0" y1="322.9" x2="78.0" y2="326.29999999999995" stroke="#2a2a2a" stroke-width="1.4"/>
<text class="t" x="80.5" y="340.4" text-anchor="middle">30</text>
<line x1="103.1" y1="322.9" x2="103.1" y2="326.29999999999995" stroke="#2a2a2a" stroke-width="1.4"/>
<text class="t" x="104.4" y="340.4" text-anchor="middle">60</text>
<line x1="128.2" y1="322.9" x2="128.2" y2="326.29999999999995" stroke="#2a2a2a" stroke-width="1.4"/>
<text class="t" x="129.4" y="340.4" text-anchor="middle">90</text>
<line x1="153.2" y1="322.9" x2="153.2" y2="326.29999999999995" stroke="#2a2a2a" stroke-width="1.4"/>
<text class="t" x="153.5" y="340.4" text-anchor="middle">120</text>
<line x1="178.2" y1="322.9" x2="178.2" y2="326.29999999999995" stroke="#2a2a2a" stroke-width="1.4"/>
<text class="t" x="182.3" y="340.4" text-anchor="middle">150</text>
<text class="t" x="121.2" y="352.7" text-anchor="middle">seconds</text>
<line x1="201.8" y1="322.9" x2="201.8" y2="326.29999999999995" stroke="#2a2a2a" stroke-width="1.4"/>
<text class="t" x="203.7" y="338.8" text-anchor="middle">0</text>
<line x1="226.9" y1="322.9" x2="226.9" y2="326.29999999999995" stroke="#2a2a2a" stroke-width="1.4"/>
<text class="t" x="230.5" y="338.8" text-anchor="middle">30</text>
<line x1="251.9" y1="322.9" x2="251.9" y2="326.29999999999995" stroke="#2a2a2a" stroke-width="1.4"/>
<text class="t" x="254.4" y="338.8" text-anchor="middle">60</text>
<line x1="277.0" y1="322.9" x2="277.0" y2="326.29999999999995" stroke="#2a2a2a" stroke-width="1.4"/>
<text class="t" x="279.4" y="338.8" text-anchor="middle">90</text>
<line x1="302.0" y1="322.9" x2="302.0" y2="326.29999999999995" stroke="#2a2a2a" stroke-width="1.4"/>
<text class="t" x="303.5" y="338.8" text-anchor="middle">120</text>
<line x1="327.1" y1="322.9" x2="327.1" y2="326.29999999999995" stroke="#2a2a2a" stroke-width="1.4"/>
<text class="t" x="332.3" y="338.8" text-anchor="middle">150</text>
<text class="t" x="274.6" y="350.7" text-anchor="middle">seconds</text>
<text class="t" style="font-size:12.35px" transform="translate(27.6,332.2) rotate(-90)">Ca<tspan class="s" dy="-4.5">2+</tspan><tspan dy="4.5"> mobilization (FR)</tspan></text>
<path d="M53.0 321.6 L54.0 321.5 L55.0 321.5 L56.0 321.4 L57.0 321.3 L58.0 321.3 L59.0 321.2 L60.0 321.2 L61.0 321.1 L62.0 321.0 L63.0 321.0 L64.0 320.9 L65.0 320.8 L66.0 320.8 L67.0 320.7 L68.0 320.6 L69.0 320.6 L70.0 320.5 L71.0 320.5 L72.0 320.4 L73.0 320.3 L74.0 320.2 L74.9 320.1 L75.9 320.0 L76.9 319.8 L77.9 319.7 L78.9 319.5 L79.9 319.4 L80.9 319.2 L81.9 319.0 L82.8 318.8 L83.8 318.5 L84.8 318.3 L85.7 318.0 L86.7 317.7 L87.7 317.4 L88.6 317.2 L89.6 316.9 L90.5 316.6 L91.5 316.2 L92.4 315.9 L93.4 315.6 L94.3 315.2 L95.2 314.9 L96.2 314.6 L97.2 314.3 L98.1 314.0 L99.1 313.7 L100.0 313.4 L101.0 313.1 L101.9 312.9 L102.9 312.6 L103.9 312.3 L104.8 312.0 L105.8 311.7 L106.7 311.4 L107.7 311.2 L108.7 310.9 L109.6 310.6 L110.6 310.3 L111.5 310.0 L112.5 309.7 L113.4 309.4 L114.4 309.0 L115.3 308.7 L116.2 308.3 L117.2 308.0 L118.1 307.7 L119.1 307.3 L120.0 307.0 L121.0 306.7 L121.9 306.4 L122.9 306.1 L123.8 305.7 L124.8 305.4 L125.7 305.1 L126.7 304.9 L127.6 304.6 L128.6 304.4 L129.6 304.1 L130.6 303.9 L131.5 303.7 L132.5 303.5 L133.5 303.3 L134.5 303.2 L135.5 303.0 L136.5 302.8 L137.5 302.6 L138.4 302.5 L139.4 302.3 L140.4 302.2 L141.4 302.1 L142.4 302.0 L143.4 302.0 L144.4 302.0 L145.4 302.0 L146.4 302.1 L147.4 302.1 L148.4 302.2 L149.4 302.2 L150.4 302.3 L151.4 302.3 L152.4 302.4 L153.4 302.4 L154.4 302.5 L155.4 302.6 L156.4 302.6 L157.4 302.7 L158.4 302.8 L159.4 302.9 L160.4 303.0 L161.4 303.0 L162.4 303.1 L163.4 303.2 L164.4 303.3 L165.4 303.4 L166.4 303.5 L167.4 303.6 L168.3 303.7 L169.3 303.8 L170.3 303.9 L171.3 304.0 L172.3 304.1 L173.3 304.2 L174.3 304.2 L175.3 304.3 L176.3 304.3 L177.3 304.4 L178.3 304.4 L179.3 304.4 L180.3 304.5 L181.3 304.5 L182.3 304.5 L183.3 304.5 L184.3 304.6 L185.3 304.6 L186.3 304.6 L187.3 304.6 L188.3 304.6 L189.3 304.6 L190.3 304.6 L191.3 304.5 L192.3 304.5 L193.3 304.4 L194.3 304.3 L194.6 304.3" fill="none" stroke="#c4c4c4" stroke-width="2.7" stroke-linejoin="round" stroke-linecap="round"/>
<path d="M53.0 321.6 L54.0 321.5 L55.0 321.4 L56.0 321.3 L57.0 321.2 L58.0 321.1 L59.0 320.9 L60.0 320.8 L60.9 320.7 L61.9 320.5 L62.9 320.4 L63.9 320.2 L64.9 320.1 L65.9 319.9 L66.9 319.8 L67.9 319.6 L68.9 319.4 L69.9 319.2 L70.8 319.0 L71.8 318.8 L72.8 318.6 L73.7 318.3 L74.6 317.9 L75.5 317.5 L76.4 317.1 L77.3 316.6 L78.2 316.1 L79.1 315.6 L79.9 315.1 L80.8 314.6 L81.7 314.1 L82.6 313.6 L83.4 313.1 L84.3 312.6 L85.2 312.1 L86.0 311.6 L86.9 311.0 L87.7 310.5 L88.5 310.0 L89.4 309.4 L90.2 308.9 L91.0 308.3 L91.9 307.7 L92.7 307.1 L93.5 306.5 L94.3 306.0 L95.1 305.4 L95.9 304.8 L96.7 304.2 L97.5 303.6 L98.4 303.0 L99.2 302.5 L100.0 301.9 L100.8 301.3 L101.6 300.7 L102.4 300.1 L103.2 299.6 L104.1 299.0 L104.9 298.5 L105.8 298.0 L106.6 297.4 L107.5 296.9 L108.3 296.4 L109.2 295.9 L110.1 295.4 L110.9 294.9 L111.8 294.4 L112.7 293.9 L113.6 293.5 L114.5 293.0 L115.3 292.5 L116.2 292.1 L117.1 291.6 L118.0 291.2 L118.9 290.7 L119.8 290.3 L120.7 289.9 L121.6 289.4 L122.5 289.0 L123.4 288.5 L124.3 288.1 L125.2 287.7 L126.1 287.2 L127.0 286.8 L127.9 286.4 L128.8 286.0 L129.7 285.5 L130.6 285.1 L131.5 284.7 L132.5 284.3 L133.4 283.9 L134.3 283.5 L135.2 283.1 L136.1 282.7 L137.1 282.4 L138.0 282.0 L138.9 281.7 L139.9 281.3 L140.8 281.0 L141.8 280.7 L142.7 280.4 L143.7 280.1 L144.7 279.8 L145.6 279.6 L146.6 279.3 L147.6 279.1 L148.5 278.8 L149.5 278.6 L150.5 278.3 L151.4 278.0 L152.4 277.7 L153.3 277.4 L154.3 277.0 L155.2 276.7 L156.2 276.4 L157.1 276.1 L158.1 275.9 L159.1 275.7 L160.1 275.6 L161.0 275.5 L162.0 275.3 L163.0 275.3 L164.0 275.2 L165.0 275.1 L166.0 275.0 L167.0 274.9 L168.0 274.9 L169.0 274.8 L170.0 274.8 L171.0 274.7 L172.0 274.7 L173.0 274.6 L174.0 274.6 L175.0 274.5 L176.0 274.5 L177.0 274.4 L178.0 274.3 L179.0 274.3 L180.0 274.2 L181.0 274.2 L182.0 274.2 L183.0 274.2 L184.0 274.2 L185.0 274.2 L186.0 274.2 L187.0 274.3 L188.0 274.3 L189.0 274.3 L190.0 274.3 L191.0 274.4 L192.0 274.5 L193.0 274.6 L194.0 274.7 L194.6 274.8" fill="none" stroke="#383838" stroke-width="2.7" stroke-linejoin="round" stroke-linecap="round"/>
<path d="M201.2 321.2 L202.1 320.8 L203.1 320.4 L204.0 320.0 L205.0 319.9 L206.0 319.8 L207.0 319.8 L208.0 319.9 L209.0 320.0 L210.0 320.0 L211.0 320.0 L212.0 320.0 L213.0 319.9 L214.0 319.8 L215.0 319.7 L216.0 319.6 L217.0 319.5 L218.0 319.4 L219.0 319.3 L220.0 319.2 L221.0 319.1 L222.0 319.1 L223.0 319.0 L224.0 318.8 L224.9 318.7 L225.9 318.6 L226.9 318.4 L227.9 318.2 L228.8 317.9 L229.8 317.6 L230.7 317.2 L231.7 316.9 L232.6 316.5 L233.6 316.2 L234.5 315.8 L235.4 315.4 L236.3 315.0 L237.2 314.6 L238.1 314.2 L239.1 313.8 L240.0 313.4 L240.9 313.0 L241.8 312.5 L242.7 312.1 L243.6 311.7 L244.5 311.2 L245.4 310.8 L246.3 310.3 L247.2 309.9 L248.1 309.5 L249.0 309.1 L249.9 308.7 L250.9 308.4 L251.8 308.0 L252.7 307.6 L253.7 307.3 L254.6 306.9 L255.5 306.6 L256.5 306.2 L257.4 305.8 L258.3 305.4 L259.2 305.0 L260.1 304.6 L261.1 304.2 L262.0 303.8 L262.9 303.5 L263.8 303.1 L264.8 302.8 L265.8 302.5 L266.7 302.3 L267.7 302.0 L268.7 301.8 L269.6 301.5 L270.6 301.2 L271.5 300.9 L272.5 300.6 L273.5 300.4 L274.4 300.1 L275.4 299.8 L276.3 299.5 L277.3 299.1 L278.3 298.8 L279.2 298.7 L280.2 298.6 L281.2 298.6 L282.2 298.7 L283.2 298.8 L284.2 298.9 L285.2 299.0 L286.2 299.2 L287.2 299.4 L288.2 299.6 L289.1 299.8 L290.1 300.0 L291.1 300.2 L292.1 300.5 L293.0 300.7 L294.0 300.9 L295.0 301.1 L296.0 301.4 L297.0 301.6 L297.9 301.7 L298.9 301.9 L299.9 302.0 L300.9 302.1 L301.9 302.2 L302.9 302.2 L303.9 302.3 L304.9 302.4 L305.9 302.4 L306.9 302.5 L307.9 302.5 L308.9 302.6 L309.9 302.6 L310.9 302.6 L311.9 302.7 L312.9 302.7 L313.9 302.8 L314.9 302.8 L315.9 302.8 L316.9 302.9 L317.9 302.9 L318.9 303.0 L319.9 303.0 L320.9 303.0 L321.9 303.1 L322.9 303.1 L323.9 303.2 L324.9 303.2 L325.9 303.2 L326.9 303.3 L327.9 303.3 L328.9 303.3 L329.9 303.4 L330.9 303.4 L331.9 303.4 L332.9 303.5 L333.9 303.5 L334.9 303.5 L335.9 303.6 L336.9 303.6 L337.9 303.6 L338.9 303.7 L339.9 303.7 L340.9 303.7 L341.9 303.8 L342.9 303.8 L343.5 303.8" fill="none" stroke="#c4c4c4" stroke-width="2.7" stroke-linejoin="round" stroke-linecap="round"/>
<path d="M201.2 322.6 L202.2 322.5 L203.2 322.5 L204.2 322.4 L205.2 322.4 L206.2 322.3 L207.2 322.2 L208.2 322.2 L209.2 322.1 L210.2 322.0 L211.2 321.9 L212.2 321.9 L213.2 321.8 L214.2 321.7 L215.2 321.6 L216.2 321.5 L217.2 321.4 L218.1 321.3 L219.1 321.2 L220.1 321.1 L221.1 321.0 L222.1 320.8 L223.1 320.7 L224.1 320.6 L225.1 320.4 L226.1 320.2 L227.0 320.0 L228.0 319.8 L229.0 319.5 L229.9 319.2 L230.9 318.9 L231.8 318.6 L232.8 318.2 L233.7 317.9 L234.7 317.6 L235.6 317.3 L236.6 317.0 L237.5 316.7 L238.5 316.4 L239.4 316.0 L240.4 315.7 L241.3 315.4 L242.2 315.0 L243.2 314.6 L244.1 314.3 L245.0 313.9 L245.9 313.5 L246.9 313.1 L247.8 312.7 L248.7 312.3 L249.6 312.0 L250.6 311.6 L251.5 311.2 L252.5 310.9 L253.4 310.5 L254.3 310.1 L255.2 309.8 L256.1 309.4 L257.0 308.9 L257.9 308.5 L258.8 308.0 L259.7 307.5 L260.5 307.0 L261.4 306.5 L262.3 306.0 L263.2 305.5 L264.1 305.1 L265.0 304.7 L265.9 304.3 L266.8 304.0 L267.8 303.6 L268.7 303.3 L269.7 302.9 L270.6 302.6 L271.5 302.2 L272.5 301.9 L273.4 301.5 L274.3 301.2 L275.3 300.8 L276.2 300.4 L277.1 299.9 L278.0 299.5 L278.9 299.1 L279.8 298.7 L280.8 298.5 L281.7 298.3 L282.7 298.0 L283.7 297.8 L284.7 297.7 L285.7 297.5 L286.7 297.3 L287.7 297.2 L288.7 297.0 L289.7 296.9 L290.6 296.7 L291.6 296.6 L292.6 296.4 L293.6 296.3 L294.6 296.2 L295.6 296.0 L296.6 295.9 L297.6 295.8 L298.6 295.6 L299.6 295.5 L300.5 295.3 L301.5 295.1 L302.5 294.8 L303.5 294.5 L304.4 294.2 L305.4 293.9 L306.4 293.6 L307.3 293.4 L308.3 293.2 L309.3 293.1 L310.3 293.0 L311.3 292.9 L312.2 292.9 L313.2 292.9 L314.2 292.8 L315.2 292.8 L316.2 292.8 L317.2 292.8 L318.2 292.8 L319.2 292.8 L320.3 292.7 L321.3 292.7 L322.3 292.7 L323.3 292.7 L324.3 292.6 L325.3 292.6 L326.3 292.5 L327.3 292.4 L328.2 292.4 L329.2 292.3 L330.2 292.1 L331.2 292.0 L332.2 291.9 L333.2 291.8 L334.2 291.7 L335.2 291.6 L336.2 291.5 L337.2 291.4 L338.2 291.3 L339.2 291.2 L340.2 291.1 L341.2 291.0 L342.2 290.9 L343.2 290.8 L343.5 290.8" fill="none" stroke="#383838" stroke-width="2.7" stroke-linejoin="round" stroke-linecap="round"/>
<text class="t" x="147.5" y="293.2">+MCsC</text>
<text class="t" x="146" y="317.4">+MCsC</text>
<text class="t" x="303.3" y="285.5">+MpαC</text>
<text class="t" x="303.3" y="316.4">+MpαC</text>
<line x1="171.3" y1="236.25" x2="190.5" y2="236.25" stroke="#111" stroke-width="2.2"/>
<text class="t" x="195.5" y="239.95">WT</text>
<line x1="223" y1="236.25" x2="242" y2="236.25" stroke="#bdbdbd" stroke-width="2.2"/>
<text class="t" x="246.3" y="239.95">Rac1<tspan class="s" dy="-4.5">-/-</tspan></text>
<line x1="68.7" y1="397.25" x2="338.5" y2="397.25" stroke="#111" stroke-width="2.4"/>
<text class="t" x="147.3" y="392.5">+6M Thrombin</text>
<path d="M52.7 399.7 V494.7 H195.5" fill="none" stroke="#2a2a2a" stroke-width="1.8"/>
<path d="M198.6 494.7 H344" fill="none" stroke="#2a2a2a" stroke-width="1.8"/>
<line x1="49.5" y1="400.30" x2="52.7" y2="400.30" stroke="#333" stroke-width="1.3"/>
<text class="t" x="47" y="405.30" text-anchor="end">1.8</text>
<line x1="49.5" y1="423.90" x2="52.7" y2="423.90" stroke="#333" stroke-width="1.3"/>
<text class="t" x="47" y="427.70" text-anchor="end">1.6</text>
<line x1="49.5" y1="447.50" x2="52.7" y2="447.50" stroke="#333" stroke-width="1.3"/>
<text class="t" x="47" y="451.30" text-anchor="end">1.4</text>
<line x1="49.5" y1="471.10" x2="52.7" y2="471.10" stroke="#333" stroke-width="1.3"/>
<text class="t" x="47" y="474.90" text-anchor="end">1.2</text>
<line x1="49.5" y1="494.70" x2="52.7" y2="494.70" stroke="#333" stroke-width="1.3"/>
<text class="t" x="47" y="498.50" text-anchor="end">1.0</text>
<line x1="53.0" y1="494.7" x2="53.0" y2="498.09999999999997" stroke="#2a2a2a" stroke-width="1.4"/>
<text class="t" x="51.7" y="509.6" text-anchor="middle">0</text>
<line x1="78.0" y1="494.7" x2="78.0" y2="498.09999999999997" stroke="#2a2a2a" stroke-width="1.4"/>
<text class="t" x="78.5" y="509.6" text-anchor="middle">30</text>
<line x1="103.1" y1="494.7" x2="103.1" y2="498.09999999999997" stroke="#2a2a2a" stroke-width="1.4"/>
<text class="t" x="102.4" y="509.6" text-anchor="middle">60</text>
<line x1="128.2" y1="494.7" x2="128.2" y2="498.09999999999997" stroke="#2a2a2a" stroke-width="1.4"/>
<text class="t" x="127.4" y="509.6" text-anchor="middle">90</text>
<line x1="153.2" y1="494.7" x2="153.2" y2="498.09999999999997" stroke="#2a2a2a" stroke-width="1.4"/>
<text class="t" x="151.5" y="509.6" text-anchor="middle">120</text>
<line x1="178.2" y1="494.7" x2="178.2" y2="498.09999999999997" stroke="#2a2a2a" stroke-width="1.4"/>
<text class="t" x="180.3" y="509.6" text-anchor="middle">150</text>
<text class="t" x="122.4" y="522.4" text-anchor="middle">seconds</text>
<line x1="201.8" y1="494.7" x2="201.8" y2="498.09999999999997" stroke="#2a2a2a" stroke-width="1.4"/>
<text class="t" x="200.7" y="509.6" text-anchor="middle">0</text>
<line x1="226.9" y1="494.7" x2="226.9" y2="498.09999999999997" stroke="#2a2a2a" stroke-width="1.4"/>
<text class="t" x="227.5" y="509.6" text-anchor="middle">30</text>
<line x1="251.9" y1="494.7" x2="251.9" y2="498.09999999999997" stroke="#2a2a2a" stroke-width="1.4"/>
<text class="t" x="251.4" y="509.6" text-anchor="middle">60</text>
<line x1="277.0" y1="494.7" x2="277.0" y2="498.09999999999997" stroke="#2a2a2a" stroke-width="1.4"/>
<text class="t" x="276.4" y="509.6" text-anchor="middle">90</text>
<line x1="302.0" y1="494.7" x2="302.0" y2="498.09999999999997" stroke="#2a2a2a" stroke-width="1.4"/>
<text class="t" x="300.5" y="509.6" text-anchor="middle">120</text>
<line x1="327.1" y1="494.7" x2="327.1" y2="498.09999999999997" stroke="#2a2a2a" stroke-width="1.4"/>
<text class="t" x="329.3" y="509.6" text-anchor="middle">150</text>
<text class="t" x="275.4" y="519.2" text-anchor="middle">seconds</text>
<text class="t" style="font-size:12.35px" transform="translate(27.6,503.2) rotate(-90)">Ca<tspan class="s" dy="-4.5">2+</tspan><tspan dy="4.5"> mobilization (FR)</tspan></text>
<path d="M52.9 493.8 L53.9 493.6 L54.8 493.3 L55.8 493.1 L56.8 492.8 L57.7 492.6 L58.7 492.3 L59.7 492.0 L60.6 491.8 L61.6 491.5 L62.6 491.2 L63.6 490.9 L64.6 490.7 L65.5 490.4 L66.5 490.1 L67.4 489.7 L68.3 489.4 L69.2 489.0 L70.0 488.5 L70.7 487.9 L71.5 487.2 L72.2 486.4 L72.8 485.7 L73.5 484.9 L74.2 484.1 L74.9 483.3 L75.5 482.6 L76.2 481.8 L76.9 481.1 L77.5 480.3 L78.1 479.5 L78.8 478.8 L79.4 478.0 L80.1 477.2 L80.7 476.5 L81.4 475.7 L82.0 475.0 L82.7 474.2 L83.3 473.4 L84.0 472.7 L84.6 471.9 L85.3 471.2 L86.0 470.4 L86.6 469.7 L87.3 469.0 L88.0 468.3 L88.7 467.6 L89.5 466.8 L90.2 466.1 L90.9 465.4 L91.7 464.7 L92.4 464.0 L93.2 463.3 L94.0 462.7 L94.8 462.2 L95.6 461.7 L96.5 461.3 L97.4 460.9 L98.3 460.6 L99.3 460.2 L100.3 459.9 L101.3 459.7 L102.3 459.5 L103.3 459.3 L104.2 459.3 L105.2 459.2 L106.2 459.1 L107.2 459.1 L108.2 459.1 L109.2 459.0 L110.2 459.0 L111.2 459.0 L112.2 459.0 L113.2 459.1 L114.2 459.1 L115.2 459.2 L116.2 459.3 L117.2 459.4 L118.2 459.5 L119.2 459.5 L120.2 459.5 L121.2 459.6 L122.3 459.6 L123.3 459.6 L124.3 459.7 L125.3 459.7 L126.3 459.7 L127.2 459.7 L128.2 459.7 L129.2 459.5 L130.1 459.1 L131.1 458.7 L132.0 458.3 L132.9 457.9 L133.8 457.4 L134.6 456.9 L135.5 456.3 L136.3 455.8 L137.2 455.3 L138.1 454.8 L139.0 454.4 L139.9 454.0 L140.9 453.7 L141.8 453.4 L142.8 453.3 L143.8 453.1 L144.8 453.0 L145.8 452.9 L146.8 452.8 L147.8 452.7 L148.8 452.6 L149.8 452.4 L150.8 452.3 L151.7 452.2 L152.7 452.0 L153.7 451.8 L154.7 451.7 L155.7 451.5 L156.7 451.3 L157.7 451.0 L158.6 450.8 L159.5 450.5 L160.4 450.1 L161.3 449.6 L162.2 449.1 L163.1 448.6 L164.0 448.1 L164.9 447.7 L165.8 447.2 L166.7 446.8 L167.6 446.4 L168.5 446.0 L169.4 445.6 L170.3 445.2 L171.3 444.8 L172.2 444.4 L173.1 444.0 L174.1 443.7 L175.0 443.4 L176.0 443.1 L176.9 442.8 L177.9 442.6 L178.9 442.3 L179.8 442.0 L180.8 441.7 L181.7 441.4 L182.7 441.1 L183.6 440.7 L184.5 440.3 L185.4 439.9 L186.4 439.5 L187.3 439.1 L188.2 438.7 L189.1 438.3 L190.0 437.8 L190.9 437.4 L191.8 436.9 L192.7 436.5 L193.5 436.0 L194.4 435.5 L194.6 435.4" fill="none" stroke="#c4c4c4" stroke-width="2.7" stroke-linejoin="round" stroke-linecap="round"/>
<path d="M52.9 493.8 L53.7 493.2 L54.5 492.6 L55.4 492.1 L56.2 491.5 L57.0 490.9 L57.8 490.2 L58.5 489.6 L59.3 489.0 L60.1 488.3 L60.8 487.7 L61.6 487.0 L62.3 486.4 L63.1 485.7 L63.8 485.0 L64.5 484.3 L65.2 483.6 L66.0 482.9 L66.6 482.2 L67.3 481.4 L68.0 480.7 L68.6 479.9 L69.3 479.2 L69.9 478.4 L70.5 477.6 L71.0 476.8 L71.6 476.0 L72.2 475.1 L72.7 474.3 L73.2 473.4 L73.8 472.6 L74.3 471.7 L74.8 470.9 L75.4 470.0 L75.9 469.2 L76.4 468.3 L76.9 467.4 L77.4 466.6 L77.9 465.7 L78.4 464.8 L78.9 464.0 L79.4 463.1 L79.9 462.3 L80.5 461.4 L81.0 460.6 L81.6 459.8 L82.1 458.9 L82.7 458.1 L83.3 457.3 L83.9 456.5 L84.5 455.7 L85.1 454.9 L85.7 454.1 L86.3 453.3 L86.9 452.5 L87.5 451.7 L88.1 450.9 L88.7 450.1 L89.3 449.3 L89.9 448.5 L90.6 447.7 L91.2 446.9 L91.8 446.2 L92.4 445.4 L93.0 444.6 L93.6 443.8 L94.3 443.0 L94.9 442.3 L95.6 441.5 L96.2 440.7 L96.9 440.0 L97.5 439.2 L98.2 438.5 L98.9 437.7 L99.5 437.0 L100.2 436.3 L100.9 435.5 L101.6 434.8 L102.3 434.1 L103.0 433.4 L103.8 432.7 L104.5 432.1 L105.3 431.4 L106.0 430.8 L106.8 430.1 L107.6 429.5 L108.4 428.9 L109.2 428.3 L110.0 427.7 L110.8 427.1 L111.6 426.5 L112.4 426.0 L113.3 425.4 L114.1 424.9 L115.0 424.4 L115.8 423.8 L116.7 423.3 L117.5 422.8 L118.4 422.3 L119.3 421.8 L120.1 421.3 L121.0 420.7 L121.8 420.2 L122.7 419.7 L123.5 419.1 L124.4 418.6 L125.3 418.1 L126.2 417.7 L127.1 417.3 L128.0 416.9 L128.9 416.5 L129.8 416.1 L130.8 415.8 L131.7 415.5 L132.7 415.2 L133.7 414.9 L134.6 414.7 L135.6 414.6 L136.6 414.5 L137.6 414.4 L138.6 414.3 L139.6 414.2 L140.6 414.2 L141.6 414.2 L142.6 414.3 L143.6 414.4 L144.6 414.6 L145.6 414.8 L146.6 415.1 L147.5 415.3 L148.4 415.7 L149.3 416.1 L150.2 416.6 L151.0 417.1 L151.9 417.7 L152.8 418.2 L153.6 418.7 L154.5 419.2 L155.4 419.6 L156.3 420.0 L157.3 420.4 L158.2 420.8 L159.1 421.2 L160.0 421.5 L161.0 421.8 L162.0 422.1 L162.9 422.4 L163.9 422.7 L164.9 422.9 L165.9 423.0 L166.9 423.0 L167.9 423.0 L168.9 423.0 L169.9 422.9 L170.9 422.9 L171.9 422.8 L172.9 422.7 L173.8 422.6 L174.8 422.3 L175.8 422.0 L176.7 421.7 L177.7 421.4 L178.7 421.2 L179.6 420.9 L180.6 420.7 L181.6 420.5 L182.6 420.3 L183.6 420.1 L184.5 420.0 L185.5 419.8 L186.5 419.7 L187.5 419.5 L188.5 419.4 L189.5 419.3 L190.5 419.2 L191.5 419.1 L192.5 419.0 L193.5 418.9 L194.5 418.8 L194.6 418.8" fill="none" stroke="#383838" stroke-width="2.7" stroke-linejoin="round" stroke-linecap="round"/>
<path d="M201.9 495.0 L202.8 494.5 L203.7 494.0 L204.5 493.6 L205.4 493.1 L206.3 492.6 L207.1 492.0 L208.0 491.5 L208.8 491.0 L209.7 490.5 L210.5 489.9 L211.4 489.4 L212.2 488.8 L213.1 488.3 L213.9 487.7 L214.7 487.2 L215.5 486.6 L216.3 486.0 L217.1 485.4 L217.9 484.7 L218.6 484.1 L219.3 483.4 L220.0 482.6 L220.6 481.9 L221.3 481.1 L221.9 480.3 L222.5 479.5 L223.1 478.7 L223.8 477.9 L224.4 477.2 L225.0 476.4 L225.6 475.6 L226.3 474.8 L226.9 474.1 L227.6 473.3 L228.2 472.5 L228.8 471.7 L229.5 470.9 L230.1 470.2 L230.7 469.4 L231.4 468.6 L232.0 467.9 L232.7 467.1 L233.3 466.4 L234.0 465.6 L234.7 464.9 L235.4 464.1 L236.0 463.4 L236.7 462.6 L237.4 461.9 L238.1 461.2 L238.8 460.5 L239.6 459.8 L240.3 459.2 L241.1 458.6 L241.9 458.0 L242.7 457.4 L243.6 456.9 L244.4 456.4 L245.3 455.9 L246.2 455.4 L247.1 454.9 L248.0 454.5 L248.9 454.2 L249.8 453.8 L250.8 453.5 L251.7 453.1 L252.7 452.8 L253.7 452.5 L254.7 452.3 L255.6 452.1 L256.6 452.0 L257.6 451.9 L258.6 451.8 L259.6 451.7 L260.6 451.6 L261.6 451.6 L262.6 451.5 L263.6 451.5 L264.6 451.5 L265.6 451.5 L266.6 451.5 L267.6 451.5 L268.6 451.5 L269.6 451.5 L270.6 451.5 L271.6 451.5 L272.6 451.5 L273.6 451.5 L274.6 451.5 L275.6 451.5 L276.6 451.6 L277.6 451.7 L278.6 451.9 L279.6 452.0 L280.6 452.0 L281.6 451.9 L282.5 451.8 L283.5 451.5 L284.5 451.2 L285.4 450.9 L286.4 450.5 L287.4 450.2 L288.3 449.9 L289.3 449.6 L290.2 449.2 L291.1 448.9 L292.1 448.5 L293.0 448.1 L293.9 447.8 L294.8 447.4 L295.8 447.0 L296.7 446.6 L297.6 446.2 L298.5 445.8 L299.5 445.4 L300.4 445.0 L301.3 444.6 L302.2 444.3 L303.2 443.9 L304.1 443.6 L305.0 443.3 L306.0 443.0 L307.0 442.7 L307.9 442.4 L308.9 442.2 L309.9 441.9 L310.8 441.6 L311.8 441.3 L312.7 441.1 L313.7 440.8 L314.7 440.5 L315.6 440.2 L316.6 439.9 L317.5 439.7 L318.5 439.4 L319.5 439.1 L320.4 438.8 L321.4 438.6 L322.4 438.3 L323.3 438.0 L324.3 437.8 L325.2 437.5 L326.2 437.3 L327.2 437.0 L328.2 436.8 L329.1 436.5 L330.1 436.3 L331.1 436.1 L332.0 435.8 L333.0 435.6 L334.0 435.3 L334.9 435.1 L335.9 434.9 L336.9 434.7 L337.9 434.4 L338.8 434.2 L339.8 434.0 L340.8 433.8 L341.8 433.6 L342.8 433.4 L343.5 433.2" fill="none" stroke="#383838" stroke-width="2.7" stroke-linejoin="round" stroke-linecap="round"/>
<path d="M201.9 495.0 L202.7 494.4 L203.5 493.8 L204.3 493.2 L205.1 492.5 L205.9 491.9 L206.6 491.2 L207.4 490.6 L208.1 489.9 L208.8 489.2 L209.6 488.5 L210.3 487.8 L210.9 487.1 L211.6 486.4 L212.3 485.7 L213.0 484.9 L213.6 484.2 L214.3 483.4 L214.9 482.6 L215.5 481.8 L216.1 481.0 L216.7 480.2 L217.3 479.4 L217.9 478.6 L218.5 477.8 L219.1 477.0 L219.6 476.1 L220.1 475.3 L220.6 474.4 L221.1 473.5 L221.6 472.7 L222.1 471.8 L222.7 470.9 L223.2 470.1 L223.7 469.2 L224.2 468.4 L224.8 467.6 L225.4 466.8 L226.0 466.0 L226.6 465.2 L227.2 464.4 L227.9 463.6 L228.6 462.8 L229.2 462.1 L229.9 461.3 L230.6 460.6 L231.4 459.9 L232.1 459.3 L232.9 458.7 L233.7 458.1 L234.5 457.6 L235.3 457.0 L236.2 456.5 L237.1 456.1 L238.0 455.6 L238.9 455.2 L239.8 454.8 L240.8 454.4 L241.7 454.0 L242.6 453.6 L243.5 453.3 L244.5 452.9 L245.4 452.6 L246.4 452.3 L247.3 452.0 L248.3 451.7 L249.2 451.4 L250.2 451.1 L251.1 450.8 L252.1 450.5 L253.1 450.2 L254.0 449.9 L255.0 449.6 L255.9 449.4 L256.9 449.1 L257.9 448.8 L258.8 448.5 L259.8 448.2 L260.7 447.9 L261.7 447.7 L262.7 447.4 L263.6 447.1 L264.6 446.9 L265.6 446.7 L266.5 446.5 L267.5 446.2 L268.5 446.1 L269.5 445.9 L270.5 445.7 L271.5 445.6 L272.5 445.5 L273.4 445.3 L274.4 445.2 L275.4 445.1 L276.4 445.0 L277.4 444.9 L278.4 444.8 L279.4 444.7 L280.4 444.6 L281.4 444.5 L282.4 444.4 L283.4 444.3 L284.4 444.2 L285.4 444.1 L286.4 443.9 L287.4 443.8 L288.4 443.7 L289.4 443.6 L290.4 443.5 L291.4 443.4 L292.3 443.3 L293.3 443.1 L294.3 443.0 L295.3 442.9 L296.3 442.7 L297.3 442.6 L298.3 442.4 L299.3 442.2 L300.2 442.0 L301.2 441.8 L302.2 441.6 L303.2 441.4 L304.2 441.2 L305.1 441.0 L306.1 440.8 L307.1 440.6 L308.1 440.4 L309.1 440.2 L310.0 440.0 L311.0 439.7 L312.0 439.5 L313.0 439.3 L313.9 439.1 L314.9 438.9 L315.9 438.6 L316.9 438.4 L317.8 438.2 L318.8 438.0 L319.8 437.7 L320.8 437.5 L321.7 437.3 L322.7 437.1 L323.7 436.8 L324.7 436.6 L325.6 436.4 L326.6 436.2 L327.6 436.0 L328.6 435.8 L329.5 435.5 L330.5 435.3 L331.5 435.1 L332.5 434.9 L333.5 434.7 L334.4 434.5 L335.4 434.3 L336.4 434.1 L337.4 433.9 L338.3 433.7 L339.3 433.5 L340.3 433.3 L341.3 433.1 L342.3 432.9 L343.3 432.7 L343.5 432.7" fill="none" stroke="#c4c4c4" stroke-width="2.7" stroke-linejoin="round" stroke-linecap="round"/>
<text class="t" x="116.8" y="434.8">+MCsC</text>
<text class="t" x="139" y="467.2">+MCsC</text>
<text class="t" x="287.3" y="432.6">+MpαC</text>
<text class="t" x="301" y="464.4">+MpαC</text>
<line x1="171.3" y1="408.5" x2="190.5" y2="408.5" stroke="#111" stroke-width="2.2"/>
<text class="t" x="195.5" y="412.2">WT</text>
<line x1="223" y1="408.5" x2="242" y2="408.5" stroke="#bdbdbd" stroke-width="2.2"/>
<text class="t" x="246.3" y="412.2">Rac1<tspan class="s" dy="-4.5">-/-</tspan></text>
<path d="M402.1 221.8 V317.5 H515" fill="none" stroke="#222" stroke-width="1.6"/>
<line x1="399" y1="222.50" x2="402.1" y2="222.50" stroke="#222" stroke-width="1.3"/>
<text class="t" x="398" y="228.40" text-anchor="end">50</text>
<line x1="399" y1="241.50" x2="402.1" y2="241.50" stroke="#222" stroke-width="1.3"/>
<text class="t" x="397.5" y="245.90" text-anchor="end">40</text>
<line x1="399" y1="260.50" x2="402.1" y2="260.50" stroke="#222" stroke-width="1.3"/>
<text class="t" x="397.5" y="264.90" text-anchor="end">30</text>
<line x1="399" y1="279.50" x2="402.1" y2="279.50" stroke="#222" stroke-width="1.3"/>
<text class="t" x="397.5" y="283.90" text-anchor="end">20</text>
<line x1="399" y1="298.50" x2="402.1" y2="298.50" stroke="#222" stroke-width="1.3"/>
<text class="t" x="397.5" y="302.90" text-anchor="end">10</text>
<line x1="399" y1="317.50" x2="402.1" y2="317.50" stroke="#222" stroke-width="1.3"/>
<text class="t" x="397.5" y="321.90" text-anchor="end">0</text>
<path d="M420.25 233 V228.8 M413.85 228.8 H426.65" stroke="#555" stroke-width="1.3" fill="none"/>
<rect x="408.1" y="233.6" width="24.3" height="83.9" fill="#404040" stroke="#333" stroke-width="1.2"/>
<path d="M445.0 280 V274 M438.6 274 H451.4" stroke="#555" stroke-width="1.3" fill="none"/>
<rect x="433.6" y="280.6" width="22.8" height="36.9" fill="#c6c6c6" stroke="#333" stroke-width="1.2"/>
<path d="M474.5 266 V260 M468.1 260 H480.9" stroke="#555" stroke-width="1.3" fill="none"/>
<rect x="462.6" y="266.6" width="23.8" height="50.9" fill="#404040" stroke="#333" stroke-width="1.2"/>
<path d="M499.0 274.5 V269 M492.6 269 H505.4" stroke="#555" stroke-width="1.3" fill="none"/>
<rect x="487.6" y="275.1" width="22.8" height="42.4" fill="#c6c6c6" stroke="#333" stroke-width="1.2"/>
<path d="M419.3 225.4 V223.8 H444.6 V225.4" stroke="#222" stroke-width="1.5" fill="none"/>
<text class="t" x="431.95000000000005" y="224.4" text-anchor="middle" style="font-weight:bold;font-size:10px;stroke-width:0.3px;fill:#000">**</text>
<text class="t" transform="translate(377,282.8) rotate(-90)">AUC</text>
<rect x="461.6" y="224.1" width="16" height="8.3" fill="#404040" stroke="#333" stroke-width="1.2"/>
<text class="t" x="483" y="230.8">WT</text>
<rect x="461.6" y="240.7" width="16" height="8.3" fill="#c4c4c4" stroke="#2a2a2a" stroke-width="1.5"/>
<text class="t" x="483" y="249.0">Rac1<tspan class="s" dy="-4.5">-/-</tspan></text>
<text class="t" x="371.5" y="330">MCsC:</text>
<text class="t" x="371.5" y="345.2">MPαC:</text>
<text class="g" x="418.5" y="329" text-anchor="middle">+</text>
<text class="g" x="418.5" y="344.2" text-anchor="middle">-</text>
<text class="g" x="443.8" y="329" text-anchor="middle">+</text>
<text class="g" x="443.8" y="344.2" text-anchor="middle">-</text>
<text class="g" x="475.4" y="329" text-anchor="middle">-</text>
<text class="g" x="475.4" y="344.2" text-anchor="middle">+</text>
<text class="g" x="500" y="329" text-anchor="middle">-</text>
<text class="g" x="500" y="344.2" text-anchor="middle">+</text>
<path d="M402.1 387.0 V482.7 H515" fill="none" stroke="#222" stroke-width="1.6"/>
<line x1="399" y1="387.70" x2="402.1" y2="387.70" stroke="#222" stroke-width="1.3"/>
<text class="t" x="398" y="393.60" text-anchor="end">100</text>
<line x1="399" y1="406.70" x2="402.1" y2="406.70" stroke="#222" stroke-width="1.3"/>
<text class="t" x="397.5" y="411.10" text-anchor="end">80</text>
<line x1="399" y1="425.70" x2="402.1" y2="425.70" stroke="#222" stroke-width="1.3"/>
<text class="t" x="397.5" y="430.10" text-anchor="end">60</text>
<line x1="399" y1="444.70" x2="402.1" y2="444.70" stroke="#222" stroke-width="1.3"/>
<text class="t" x="397.5" y="449.10" text-anchor="end">40</text>
<line x1="399" y1="463.70" x2="402.1" y2="463.70" stroke="#222" stroke-width="1.3"/>
<text class="t" x="397.5" y="468.10" text-anchor="end">20</text>
<line x1="399" y1="482.70" x2="402.1" y2="482.70" stroke="#222" stroke-width="1.3"/>
<text class="t" x="397.5" y="487.10" text-anchor="end">0</text>
<path d="M420.25 400 V396.5 M413.85 396.5 H426.65" stroke="#555" stroke-width="1.3" fill="none"/>
<rect x="408.1" y="400.6" width="24.3" height="82.1" fill="#404040" stroke="#333" stroke-width="1.2"/>
<path d="M445.0 430.5 V426 M438.6 426 H451.4" stroke="#555" stroke-width="1.3" fill="none"/>
<rect x="433.6" y="431.1" width="22.8" height="51.59999999999999" fill="#c6c6c6" stroke="#333" stroke-width="1.2"/>
<path d="M474.5 426 V420.5 M468.1 420.5 H480.9" stroke="#555" stroke-width="1.3" fill="none"/>
<rect x="462.6" y="426.6" width="23.8" height="56.09999999999999" fill="#404040" stroke="#333" stroke-width="1.2"/>
<path d="M499.0 420.8 V414.5 M492.6 414.5 H505.4" stroke="#555" stroke-width="1.3" fill="none"/>
<rect x="487.6" y="421.40000000000003" width="22.8" height="61.299999999999976" fill="#c6c6c6" stroke="#333" stroke-width="1.2"/>
<path d="M420.5 394.90000000000003 V393.3 H447 V394.90000000000003" stroke="#222" stroke-width="1.5" fill="none"/>
<text class="t" x="433.75" y="393.90000000000003" text-anchor="middle" style="font-weight:bold;font-size:10px;stroke-width:0.3px;fill:#000">**</text>
<text class="t" transform="translate(377,448.0) rotate(-90)">AUC</text>
<rect x="461.6" y="382.1" width="16" height="8.3" fill="#404040" stroke="#333" stroke-width="1.2"/>
<text class="t" x="483" y="388.8">WT</text>
<rect x="461.6" y="398.7" width="16" height="8.3" fill="#c4c4c4" stroke="#2a2a2a" stroke-width="1.5"/>
<text class="t" x="483" y="407.0">Rac1<tspan class="s" dy="-4.5">-/-</tspan></text>
<text class="t" x="368.3" y="496">MCsC:</text>
<text class="t" x="368.3" y="511.2">MPαC:</text>
<text class="g" x="419" y="495" text-anchor="middle">+</text>
<text class="g" x="419" y="510.2" text-anchor="middle">-</text>
<text class="g" x="445.2" y="495" text-anchor="middle">+</text>
<text class="g" x="445.2" y="510.2" text-anchor="middle">-</text>
<text class="g" x="473.2" y="495" text-anchor="middle">-</text>
<text class="g" x="473.2" y="510.2" text-anchor="middle">+</text>
<text class="g" x="498" y="495" text-anchor="middle">-</text>
<text class="g" x="498" y="510.2" text-anchor="middle">+</text>
</svg></body></html>
